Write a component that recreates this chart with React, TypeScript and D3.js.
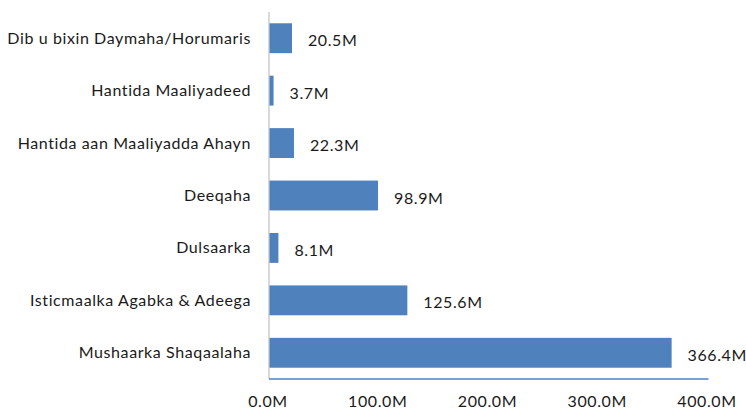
import React from "react";
import * as d3 from "d3";

const categories = [
  "Dib u bixin Daymaha/Horumaris",
  "Hantida Maaliyadeed",
  "Hantida aan Maaliyadda Ahayn",
  "Deeqaha",
  "Dulsaarka",
  "Isticmaalka Agabka & Adeega",
  "Mushaarka Shaqaalaha",
];
const values = [20.5, 3.7, 22.3, 98.9, 8.1, 125.6, 366.4];
const ticks = [0, 100, 200, 300, 400];

const W = 746;
const H = 410;
const FONT = "Lato, 'Open Sans', sans-serif";
const FS = 16;
const LS = 0.6;

export default function App() {
  const x = d3.scaleLinear().domain([0, 400]).range([269.5, 708.5]);
  const y = d3
    .scaleBand<string>()
    .domain(categories)
    .range([12, 379])
    .paddingInner(0.43)
    .paddingOuter(0.215);
  const fmt = (v: number) => `${v.toFixed(1)}M`;

  return (
    <svg
      width={W}
      height={H}
      style={{ position: "absolute", left: 0, top: 0, background: "#fff" }}
      fontFamily={FONT}
    >
      <line x1={269} x2={269} y1={12} y2={379} stroke="#d9d9d9" strokeWidth={2} />
      {categories.map((c, i) => {
        const yy = y(c)!;
        const bw = y.bandwidth();
        return (
          <g key={c}>
            <rect
              x={x(0)}
              y={yy}
              width={x(values[i]) - x(0)}
              height={bw}
              fill="#4f81bd"
            />
            <text
              x={251}
              y={yy + bw / 2 + 5.5}
              textAnchor="end"
              fontSize={FS}
              letterSpacing={LS}
              fill="#1a1a1a"
            >
              {c}
            </text>
            <text
              x={x(values[i]) + 16}
              y={yy + bw / 2 + 8}
              fontSize={FS}
              letterSpacing={LS}
              fill="#1a1a1a"
            >
              {fmt(values[i])}
            </text>
          </g>
        );
      })}
      <line x1={269} x2={708.5} y1={379} y2={379} stroke="#4f81bd" strokeWidth={1.5} />
      {ticks.map((t) => (
        <text
          key={t}
          x={x(t) - 1.5}
          y={406.5}
          textAnchor="middle"
          fontSize={FS}
          letterSpacing={LS}
          fill="#1a1a1a"
        >
          {fmt(t)}
        </text>
      ))}
    </svg>
  );
}
